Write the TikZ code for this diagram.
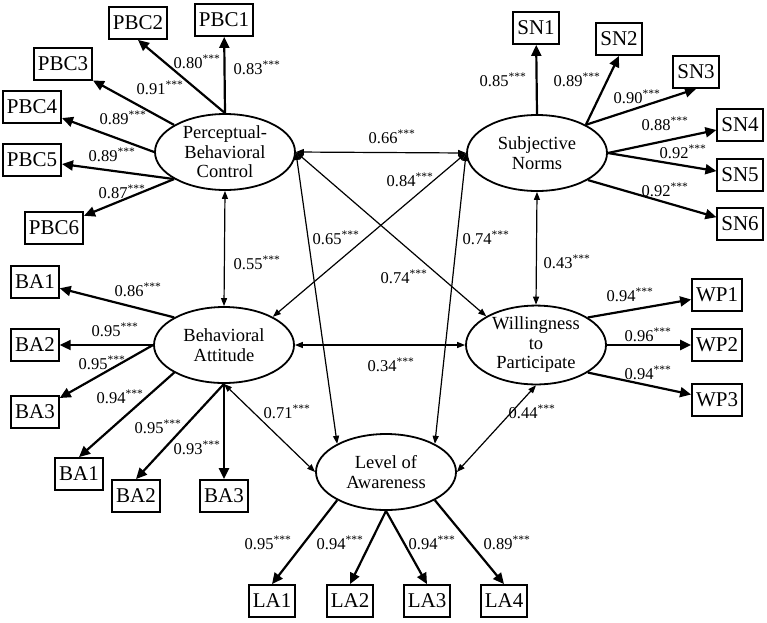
\documentclass[tikz,border=0pt]{standalone}
\usepackage{fontspec}
\setmainfont{Liberation Serif}
\usetikzlibrary{shapes.geometric,arrows.meta}

\newcommand{\coef}[1]{#1\textsuperscript{***}}

\tikzset{
  latent/.style={draw,ellipse,line width=1.8pt,minimum width=140pt,minimum height=76pt,
    inner sep=0pt,align=center,font=\fontsize{18.5}{19.5}\selectfont},
  item/.style={draw,rectangle,line width=1.8pt,minimum height=32pt,inner xsep=4pt,
    inner ysep=0pt,font=\fontsize{21}{22}\selectfont},
  load/.style={line width=2.2pt,-{Triangle[length=11pt,width=10pt]}},
  corr/.style={line width=1.2pt,{Triangle[length=8pt,width=6pt]}-{Triangle[length=8pt,width=6pt]}},
  est/.style={font=\fontsize{16.5}{18}\selectfont,inner sep=0pt}
}

\begin{document}
\begin{tikzpicture}[x=1pt,y=-1pt]
\useasboundingbox (0,0) rectangle (767,622);

% latent constructs
\node[latent] (pbc) at (225,152) {Perceptual-\\Behavioral\\Control};
\node[latent] (sn) at (537,153) {Subjective\\Norms};
\node[latent] (ba) at (224,345) {Behavioral\\Attitude};
\node[latent] (wp) at (536,345) {Willingness\\to\\Participate};
\node[latent] (la) at (386,472) {Level of\\Awareness};

% indicators
\node[item] (pbc1) at (224,20) {PBC1};
\node[item] (pbc2) at (138,23) {PBC2};
\node[item] (pbc3) at (63,64) {PBC3};
\node[item] (pbc4) at (32,107) {PBC4};
\node[item] (pbc5) at (32,160) {PBC5};
\node[item] (pbc6) at (54,228) {PBC6};

\node[item] (sn1) at (536,28) {SN1};
\node[item] (sn2) at (619,39) {SN2};
\node[item] (sn3) at (696,72) {SN3};
\node[item] (sn4) at (740,125) {SN4};
\node[item] (sn5) at (740,175) {SN5};
\node[item] (sn6) at (740,224) {SN6};

\node[item] (wp1) at (717,295) {WP1};
\node[item] (wp2) at (717,345) {WP2};
\node[item] (wp3) at (717,400) {WP3};

\node[item] (ba1) at (35,282) {BA1};
\node[item] (ba2) at (35,345) {BA2};
\node[item] (ba3) at (35,412) {BA3};
\node[item] (ba4) at (79,474) {BA1};
\node[item] (ba5) at (136,496) {BA2};
\node[item] (ba6) at (224,496) {BA3};

\node[item] (la1) at (272,601) {LA1};
\node[item] (la2) at (350,601) {LA2};
\node[item] (la3) at (427,601) {LA3};
\node[item] (la4) at (504,601) {LA4};

% loadings
\draw[load] (pbc.north) -- (pbc1);
\draw[load] (pbc.north) -- (pbc2.south);
\draw[load] (pbc.152) -- (pbc3);
\draw[load] (pbc.west) -- (pbc4);
\draw[load] (pbc.208) -- (pbc5);
\draw[load] (pbc.208) -- (pbc6);

\draw[load] (sn.north) -- (sn1);
\draw[load] (sn.30) -- (sn2.south);
\draw[load] (sn.30) -- (sn3.south);
\draw[load] (sn.east) -- (sn4);
\draw[load] (sn.east) -- (sn5);
\draw[load] (sn.-28) -- (sn6);

\draw[load] (wp.28) -- (wp1);
\draw[load] (wp.east) -- (wp2);
\draw[load] (wp.-28) -- (wp3);

\draw[load] (ba.151) -- (ba1);
\draw[load] (ba.west) -- (ba2);
\draw[load] (ba.west) -- (ba3);
\draw[load] (ba.209) -- (ba4.north);
\draw[load] (ba.south) -- (ba5.north);
\draw[load] (ba.south) -- (ba6);

\draw[load] (la.210) -- (la1.north);
\draw[load] (la.south) -- (la2.north);
\draw[load] (la.south) -- (la3.north);
\draw[load] (la.-30) -- (la4.north);

% correlations
\draw[corr] (pbc.east) -- (sn.west);
\draw[corr] (pbc.south) -- (ba.north);
\draw[corr] (sn.south) -- (wp.north);
\draw[corr] (ba.east) -- (wp.west);
\draw[corr] (sn.west) -- (ba.30);
\draw[corr] (pbc.east) -- (wp.150);
\draw[corr] (pbc.east) -- (la.150);
\draw[corr] (sn.west) -- (la.30);
\draw[corr] (ba.south) -- (la.west);
\draw[corr] (wp.south) -- (la.east);

% estimates
\node[est] (e1) at (197,62) {\coef{0.80}};
\node[est] (e2) at (257,68) {\coef{0.83}};
\node[est] (e3) at (160,88) {\coef{0.91}};
\node[est] (e4) at (123,118) {\coef{0.89}};
\node[est] (e5) at (112,155) {\coef{0.89}};
\node[est] (e6) at (122,192) {\coef{0.87}};

\node[est] (e7) at (503,80) {\coef{0.85}};
\node[est] (e8) at (577,80) {\coef{0.89}};
\node[est] (e9) at (637,97) {\coef{0.90}};
\node[est] (e10) at (665,124) {\coef{0.88}};
\node[est] (e11) at (683,152) {\coef{0.92}};
\node[est] (e12) at (665,190) {\coef{0.92}};

\node[est] (e13) at (630,295) {\coef{0.94}};
\node[est] (e14) at (648,335) {\coef{0.96}};
\node[est] (e15) at (648,373) {\coef{0.94}};

\node[est] (e16) at (138,290) {\coef{0.86}};
\node[est] (e17) at (115,330) {\coef{0.95}};
\node[est] (e18) at (102,363) {\coef{0.95}};
\node[est] (e19) at (120,397) {\coef{0.94}};
\node[est] (e20) at (158,427) {\coef{0.95}};
\node[est] (e21) at (197,448) {\coef{0.93}};

\node[est] (e22) at (268,543) {\coef{0.95}};
\node[est] (e23) at (340,543) {\coef{0.94}};
\node[est] (e24) at (432,543) {\coef{0.94}};
\node[est] (e25) at (507,543) {\coef{0.89}};

\node[est] (r1) at (392,137) {\coef{0.66}};
\node[est] (r2) at (410,180) {\coef{0.84}};
\node[est] (r3) at (336,238) {\coef{0.65}};
\node[est] (r4) at (486,238) {\coef{0.74}};
\node[est] (r5) at (404,277) {\coef{0.74}};
\node[est] (r6) at (257,263) {\coef{0.55}};
\node[est] (r7) at (567,262) {\coef{0.43}};
\node[est] (r8) at (391,365) {\coef{0.34}};
\node[est] (r9) at (287,412) {\coef{0.71}};
\node[est] (r10) at (532,412) {\coef{0.44}};
\end{tikzpicture}
\end{document}
